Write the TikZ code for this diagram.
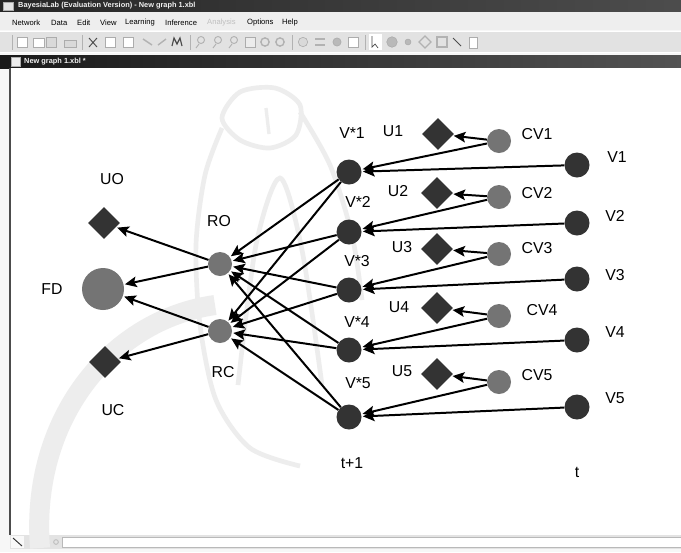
\documentclass[tikz,border=0pt]{standalone}
\usepackage{fontspec}
\setmainfont{Liberation Sans}
\usetikzlibrary{shapes.geometric, arrows.meta, positioning}
\definecolor{nodedark}{HTML}{333333}
\definecolor{nodegrey}{HTML}{747474}
\definecolor{wmark}{HTML}{EDEDED}
\definecolor{barbg}{HTML}{E2E2E2}
\tikzstyle{arrow} = [line width=1.7pt, -{Stealth[length=10pt, width=9pt, inset=2pt]}, shorten >=1pt]
\tikzstyle{varnode} = [
    circle, fill=nodedark, minimum size=0.75cm, inner sep=0pt
]
\tikzstyle{chancenode} = [
    circle, fill=nodegrey, minimum size=0.72cm, inner sep=0pt
]
\tikzstyle{utilnode} = [
    diamond, fill=nodedark, minimum width=0.96cm, minimum height=0.96cm, inner sep=0pt
]
\tikzstyle{lbl} = [font=\fontsize{13.5}{15}\selectfont, inner sep=0pt]
\tikzstyle{menuitem} = [font=\fontsize{6.5}{7}\selectfont, inner sep=0pt, anchor=west]
\tikzstyle{bartitle} = [font=\bfseries\fontsize{6.3}{7}\selectfont, text=white!90!gray, inner sep=0pt, anchor=west]
\tikzstyle{tbicon} = [draw=gray!65, fill=gray!30, line width=0.5pt]

\begin{document}
\begin{tikzpicture}[x=0.03cm, y=-0.03cm]
\useasboundingbox (0,0) rectangle (681,552);

% Window frame
\fill[white!94!gray] (0,0) rectangle (681,552);
\shade[left color=gray!30!black, right color=gray!60!black] (0,0) rectangle (681,11);
\draw[tbicon, fill=gray!20] (3,2) rectangle (13,10);
\node (wintitle) [bartitle] at (18,5.5) {BayesiaLab (Evaluation Version) - New graph 1.xbl};
\fill[barbg!60] (0,12) rectangle (681,30);
\node (m_network) [menuitem] at (12,23) {Network};
\node (m_data) [menuitem] at (51,23) {Data};
\node (m_edit) [menuitem] at (77,23) {Edit};
\node (m_view) [menuitem] at (100,23) {View};
\node (m_learning) [menuitem] at (125,23) {Learning};
\node (m_inference) [menuitem] at (165,23) {Inference};
\node (m_analysis) [menuitem, text=gray!50] at (207,23) {Analysis};
\node (m_options) [menuitem] at (247,23) {Options};
\node (m_help) [menuitem] at (282,23) {Help};

% Toolbar
\fill[barbg] (0,31) rectangle (681,53);
\draw[white] (0,31.5) -- (681,31.5);
\draw[white] (0,52.5) -- (681,52.5);
\draw[gray!60] (12,35) -- (12,50);
\draw[tbicon, fill=white] (17,37) rectangle (27,47);
\draw[tbicon, fill=white] (33,38) rectangle (44,47);
\draw[tbicon] (46,37) rectangle (56,47);
\draw[tbicon] (64,40) rectangle (76,47);
\draw[gray!60] (82,35) -- (82,50);
\draw[gray!60!black, line width=0.8pt] (89,38) -- (97,47) (97,38) -- (89,47);
\draw[tbicon, fill=white] (105,37) rectangle (115,47);
\draw[tbicon, fill=white] (123,37) rectangle (133,47);
\draw[gray!60, line width=1.2pt] (152,45) -- (143,39);
\draw[gray!60, line width=1.2pt] (158,45) -- (166,39);
\draw[gray!60!black, line width=1pt] (172,46) -- (174,38) -- (177,44) -- (180,38) -- (182,46);
\draw[gray!60] (190,35) -- (190,50);
\draw[gray!60, line width=0.8pt] (201,40) circle [radius=3pt] (199,44) -- (196,48);
\draw[gray!60, line width=0.8pt] (218,40) circle [radius=3pt] (216,44) -- (213,48);
\draw[gray!60, line width=0.8pt] (234,40) circle [radius=3pt] (232,44) -- (229,48);
\draw[tbicon, fill=gray!15] (245,37) rectangle (255,47);
\draw[gray!60, line width=1.2pt] (265,42) circle [radius=3.5pt];
\draw[gray!60, line width=1.2pt] (280,42) circle [radius=3.5pt];
\draw[gray!60] (292,35) -- (292,50);
\draw[tbicon] (303,42) circle [radius=4pt];
\draw[gray!60, line width=1pt] (315,45) -- (325,45) (315,39) -- (325,39);
\draw[tbicon, fill=gray!55] (337,42) circle [radius=3.5pt];
\draw[tbicon, fill=white] (348,37) rectangle (358,47);
\draw[gray!60] (365,35) -- (365,50);
\fill[white] (369,34) rectangle (382,50);
\draw[gray!60!black, line width=0.6pt] (372,36) -- (372,47) -- (375,44) -- (378,48);
\draw[tbicon, fill=gray!55] (392,42) circle [radius=4.5pt];
\draw[tbicon, fill=gray!55] (408,42) circle [radius=2.5pt];
\draw[gray!60, line width=1pt] (425,36) -- (431,42) -- (425,48) -- (419,42) -- cycle;
\draw[gray!60, line width=1pt] (437,37) rectangle (447,47);
\draw[gray!60!black, line width=0.8pt] (453,38) -- (461,46);
\draw[tbicon, fill=white] (469,37) rectangle (477,48);

% Document tab
\shade[left color=gray!20!black, right color=gray!65!black] (0,55) rectangle (681,68);
\draw[tbicon, fill=gray!15] (11,57) rectangle (20,66);
\node (tabtitle) [bartitle] at (24,61.5) {New graph 1.xbl *};

% Drawing area
\fill[white] (10,68) rectangle (681,535);
\draw[gray!60!black, line width=1pt] (10,68) -- (10,535);
\fill[gray!22] (10,535) rectangle (681,549);
\fill[white] (62,537) rectangle (681,547);
\draw[gray!55] (62,537) rectangle (681,547);
\fill[white!95!gray] (11,536) rectangle (24,548);
\draw[gray!40!black, line width=0.8pt] (13,538) -- (22,546);
\fill[gray!55] (32,539) rectangle (42,545);
\draw[gray!50, line width=0.8pt] (56,542) circle [radius=2pt];

% Watermark
\draw[wmark, line width=0.6cm] (40,548) .. controls (30,420) and (110,320) .. (215,305);
\draw[wmark, line width=0.14cm] plot[smooth cycle] coordinates {(222,118) (240,92) (275,88) (300,105) (296,135) (270,148) (240,140)};
\draw[wmark, line width=0.14cm] plot[smooth] coordinates {(222,128) (205,175) (196,245) (200,325) (216,400) (250,448) (300,466)};
\draw[wmark, line width=0.14cm] plot[smooth] coordinates {(300,112) (330,165) (352,235) (362,300)};
\draw[wmark, line width=0.14cm] plot[smooth] coordinates {(238,385) (256,245) (280,178) (302,250) (322,385)};
\draw[wmark, line width=0.1cm] (266,108) -- (269,134);

% Slice t
\node (V_1) [varnode] at (577,165) {};
\node (V_2) [varnode] at (577,223) {};
\node (V_3) [varnode] at (577,279) {};
\node (V_4) [varnode] at (577,340) {};
\node (V_5) [varnode] at (577,407) {};
\node (CV_1) [chancenode] at (499,141) {};
\node (CV_2) [chancenode] at (499,197) {};
\node (CV_3) [chancenode] at (499,254) {};
\node (CV_4) [chancenode] at (499,316) {};
\node (CV_5) [chancenode] at (499,382) {};
\node (U_1) [utilnode] at (438,134) {};
\node (U_2) [utilnode] at (437,193) {};
\node (U_3) [utilnode] at (437,249) {};
\node (U_4) [utilnode] at (437,308) {};
\node (U_5) [utilnode] at (437,374) {};

% Slice t+1
\node (Vs_1) [varnode] at (349,172) {};
\node (Vs_2) [varnode] at (349,232) {};
\node (Vs_3) [varnode] at (349,290) {};
\node (Vs_4) [varnode] at (349,350) {};
\node (Vs_5) [varnode] at (349,417) {};
\node (RO) [chancenode] at (220,264) {};
\node (RC) [chancenode] at (220,331) {};
\node (FD) [chancenode, minimum size=1.26cm] at (103,289) {};
\node (UO) [utilnode] at (104,223) {};
\node (UC) [utilnode] at (105,362) {};

% Labels
\node (l_V1) [lbl] at (617,157) {V1};
\node (l_V2) [lbl] at (615,216) {V2};
\node (l_V3) [lbl] at (615,275) {V3};
\node (l_V4) [lbl] at (615,332) {V4};
\node (l_V5) [lbl] at (615,398) {V5};
\node (l_CV1) [lbl] at (537,134) {CV1};
\node (l_CV2) [lbl] at (537,193) {CV2};
\node (l_CV3) [lbl] at (537,248) {CV3};
\node (l_CV4) [lbl] at (542,310) {CV4};
\node (l_CV5) [lbl] at (537,375) {CV5};
\node (l_U1) [lbl] at (393,131) {U1};
\node (l_U2) [lbl] at (398,191) {U2};
\node (l_U3) [lbl] at (402,247) {U3};
\node (l_U4) [lbl] at (399,307) {U4};
\node (l_U5) [lbl] at (402,371) {U5};
\node (l_Vs1) [lbl] at (352,133) {V*1};
\node (l_Vs2) [lbl] at (358,202) {V*2};
\node (l_Vs3) [lbl] at (357,261) {V*3};
\node (l_Vs4) [lbl] at (357,322) {V*4};
\node (l_Vs5) [lbl] at (358,383) {V*5};
\node (l_RO) [lbl] at (219,221) {RO};
\node (l_RC) [lbl] at (223,372) {RC};
\node (l_FD) [lbl] at (52,289) {FD};
\node (l_UO) [lbl] at (112,179) {UO};
\node (l_UC) [lbl] at (113,410) {UC};
\node (l_t1) [lbl] at (352,463) {t+1};
\node (l_t) [lbl] at (577,472) {t};

% Connections
\draw [arrow] (V_1) -- (Vs_1);
\draw [arrow] (V_2) -- (Vs_2);
\draw [arrow] (V_3) -- (Vs_3);
\draw [arrow] (V_4) -- (Vs_4);
\draw [arrow] (V_5) -- (Vs_5);
\draw [arrow] (CV_1) -- (Vs_1);
\draw [arrow] (CV_2) -- (Vs_2);
\draw [arrow] (CV_3) -- (Vs_3);
\draw [arrow] (CV_4) -- (Vs_4);
\draw [arrow] (CV_5) -- (Vs_5);
\draw [arrow] (CV_1) -- (U_1);
\draw [arrow] (CV_2) -- (U_2);
\draw [arrow] (CV_3) -- (U_3);
\draw [arrow] (CV_4) -- (U_4);
\draw [arrow] (CV_5) -- (U_5);

% Final Connections
\draw [arrow] (Vs_1) -- (RO);
\draw [arrow] (Vs_2) -- (RO);
\draw [arrow] (Vs_3) -- (RO);
\draw [arrow] (Vs_4) -- (RO);
\draw [arrow] (Vs_5) -- (RO);
\draw [arrow] (Vs_1) -- (RC);
\draw [arrow] (Vs_2) -- (RC);
\draw [arrow] (Vs_3) -- (RC);
\draw [arrow] (Vs_4) -- (RC);
\draw [arrow] (Vs_5) -- (RC);
\draw [arrow] (RO) -- (UO);
\draw [arrow] (RO) -- (FD);
\draw [arrow] (RC) -- (FD);
\draw [arrow] (RC) -- (UC);

\end{tikzpicture}
\end{document}
